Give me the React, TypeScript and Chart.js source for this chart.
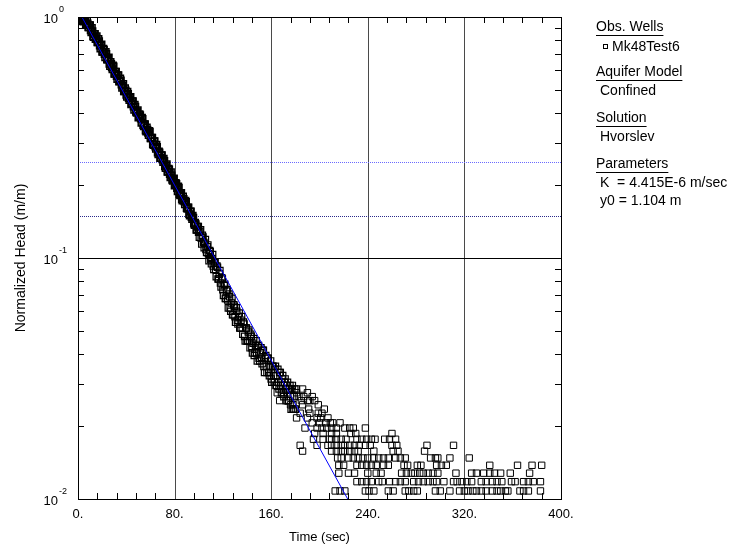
import React, { useEffect, useRef } from 'react';
import { Chart, registerables } from 'chart.js';

Chart.register(...registerables);

// ---------- data ----------
const earlyTime = [0, 1, 2, 3, 4, 5, 6, 7, 8, 9, 10, 11, 12, 13, 14, 15, 16, 17, 18, 19, 20, 21, 22, 23, 24, 25, 26, 27, 28, 29, 30, 31, 32, 33, 34, 35, 36, 37, 38, 39, 40, 41, 42, 43, 44, 45, 46, 47, 48, 49, 50, 51, 52, 53, 54, 55, 56, 57, 58, 59, 60, 61, 62, 63, 64, 65, 66, 67, 68, 69, 70, 71, 72, 73, 74, 75, 76, 77, 78, 79, 80, 81, 82, 83, 84, 85, 86, 87, 88, 89, 90, 91, 92, 93, 94, 95, 96, 97, 98, 99, 100];
const earlyHead = [1.000, 0.988, 0.997, 0.970, 0.993, 0.963, 0.981, 0.929, 0.941, 0.907,
  0.925, 0.864, 0.874, 0.825, 0.851, 0.817, 0.785, 0.810, 0.762, 0.763,
  0.717, 0.738, 0.702, 0.716, 0.666, 0.673, 0.639, 0.651, 0.619, 0.630,
  0.581, 0.593, 0.569, 0.574, 0.540, 0.556, 0.524, 0.518, 0.492, 0.506,
  0.476, 0.490, 0.461, 0.461, 0.434, 0.447, 0.425, 0.433, 0.404, 0.407,
  0.383, 0.395, 0.379, 0.382, 0.356, 0.359, 0.338, 0.348, 0.331, 0.337,
  0.314, 0.316, 0.297, 0.305, 0.290, 0.295, 0.274, 0.277, 0.260, 0.267,
  0.256, 0.258, 0.240, 0.242, 0.228, 0.235, 0.223, 0.227, 0.211, 0.212,
  0.200, 0.205, 0.195, 0.198, 0.184, 0.186, 0.175, 0.180, 0.172, 0.173,
  0.161, 0.162, 0.152, 0.156, 0.148, 0.150, 0.139, 0.140, 0.131, 0.135,
  0.128];

const earlyHalfTime = [0.5, 1.5, 2.5, 3.5, 4.5, 5.5, 6.5, 7.5, 8.5, 9.5, 10.5, 11.5, 12.5, 13.5, 14.5, 15.5, 16.5, 17.5, 18.5, 19.5, 20.5, 21.5, 22.5, 23.5, 24.5, 25.5, 26.5, 27.5, 28.5, 29.5, 30.5, 31.5, 32.5, 33.5, 34.5, 35.5, 36.5, 37.5, 38.5, 39.5, 40.5, 41.5, 42.5, 43.5, 44.5, 45.5, 46.5, 47.5, 48.5, 49.5, 50.5, 51.5, 52.5, 53.5, 54.5, 55.5, 56.5, 57.5, 58.5, 59.5, 60.5, 61.5, 62.5, 63.5, 64.5, 65.5, 66.5, 67.5, 68.5, 69.5, 70.5, 71.5, 72.5, 73.5, 74.5, 75.5, 76.5, 77.5, 78.5, 79.5, 80.5, 81.5, 82.5, 83.5, 84.5, 85.5, 86.5, 87.5, 88.5, 89.5, 90.5, 91.5, 92.5, 93.5, 94.5, 95.5, 96.5, 97.5, 98.5, 99.5];
const earlyHalfHead = [0.979, 0.992, 0.963, 0.990, 0.958, 0.987, 0.926, 0.968, 0.906, 0.925,
  0.881, 0.900, 0.832, 0.850, 0.809, 0.833, 0.786, 0.794, 0.740, 0.769,
  0.717, 0.731, 0.681, 0.702, 0.666, 0.679, 0.626, 0.638, 0.607, 0.624,
  0.581, 0.593, 0.552, 0.574, 0.541, 0.546, 0.508, 0.528, 0.492, 0.496,
  0.467, 0.480, 0.452, 0.466, 0.439, 0.447, 0.412, 0.424, 0.400, 0.411,
  0.387, 0.391, 0.364, 0.378, 0.352, 0.359, 0.335, 0.341, 0.324, 0.334,
  0.314, 0.316, 0.294, 0.305, 0.284, 0.289, 0.269, 0.274, 0.260, 0.267,
  0.250, 0.253, 0.236, 0.245, 0.228, 0.233, 0.216, 0.220, 0.209, 0.214,
  0.202, 0.203, 0.189, 0.196, 0.182, 0.186, 0.173, 0.176, 0.167, 0.171,
  0.160, 0.162, 0.150, 0.156, 0.145, 0.147, 0.137, 0.138, 0.131, 0.135];

const midTime = [101, 102, 103, 104, 105, 106, 107, 108, 109, 110, 111, 112, 113, 114, 115, 116, 117, 118, 119, 120, 121, 122, 123, 124, 125, 126, 127, 128, 129, 130, 131, 132, 133, 134, 135, 136, 137, 138, 139, 140, 141, 142, 143, 144, 145, 146, 147, 148, 149, 150, 151, 152, 153, 154, 155, 156, 157, 158, 159, 160, 161, 162, 163, 164, 165, 166, 167, 168, 169, 170, 171, 172, 173, 174, 175, 176, 177, 178, 179, 180];
const midHead = [0.1290, 0.1212, 0.1241, 0.1162, 0.1152, 0.1084, 0.1113, 0.1044, 0.1074, 0.0985,
  0.0995, 0.0926, 0.0965, 0.0896, 0.0926, 0.0818, 0.0857, 0.0788, 0.0827, 0.0739,
  0.0768, 0.0680, 0.0729, 0.0670, 0.0709, 0.0621, 0.0650, 0.0581, 0.0640, 0.0571,
  0.0621, 0.0552, 0.0571, 0.0512, 0.0552, 0.0512, 0.0542, 0.0473, 0.0512, 0.0453,
  0.0493, 0.0453, 0.0483, 0.0424, 0.0443, 0.0394, 0.0433, 0.0404, 0.0433, 0.0384,
  0.0404, 0.0384, 0.0414, 0.0355, 0.0384, 0.0355, 0.0384, 0.0335, 0.0355, 0.0315,
  0.0355, 0.0325, 0.0345, 0.0296, 0.0325, 0.0305, 0.0335, 0.0296, 0.0315, 0.0276,
  0.0305, 0.0286, 0.0296, 0.0256, 0.0286, 0.0266, 0.0286, 0.0246, 0.0266, 0.0236];

const midHalfTime = [100.5, 101.5, 102.5, 103.5, 104.5, 105.5, 106.5, 107.5, 108.5, 109.5, 110.5, 111.5, 112.5, 113.5, 114.5, 115.5, 116.5, 117.5, 118.5, 119.5, 120.5, 121.5, 122.5, 123.5, 124.5, 125.5, 126.5, 127.5, 128.5, 129.5, 130.5, 131.5, 132.5, 133.5, 134.5, 135.5, 136.5, 137.5, 138.5, 139.5, 140.5, 141.5, 142.5, 143.5, 144.5, 145.5, 146.5, 147.5, 148.5, 149.5, 150.5, 151.5, 152.5, 153.5, 154.5, 155.5, 156.5, 157.5, 158.5, 159.5, 160.5, 161.5, 162.5, 163.5, 164.5, 165.5, 166.5, 167.5, 168.5, 169.5, 170.5, 171.5, 172.5, 173.5, 174.5, 175.5, 176.5, 177.5, 178.5, 179.5];
const midHalfHead = [0.1221, 0.1310, 0.1143, 0.1221, 0.1103, 0.1192, 0.1054, 0.1133, 0.0975, 0.1064,
  0.0946, 0.1034, 0.0896, 0.0955, 0.0837, 0.0916, 0.0818, 0.0887, 0.0758, 0.0818,
  0.0699, 0.0778, 0.0680, 0.0739, 0.0621, 0.0690, 0.0601, 0.0680, 0.0581, 0.0630,
  0.0542, 0.0601, 0.0532, 0.0591, 0.0512, 0.0571, 0.0483, 0.0532, 0.0453, 0.0512,
  0.0453, 0.0502, 0.0424, 0.0473, 0.0404, 0.0463, 0.0404, 0.0453, 0.0374, 0.0433,
  0.0374, 0.0424, 0.0364, 0.0414, 0.0335, 0.0394, 0.0335, 0.0384, 0.0325, 0.0374,
  0.0305, 0.0355, 0.0305, 0.0355, 0.0296, 0.0345, 0.0286, 0.0335, 0.0276, 0.0325,
  0.0266, 0.0315, 0.0256, 0.0305, 0.0256, 0.0296, 0.0236, 0.0296, 0.0236, 0.0286];

// late-time readings fall on discrete head levels; times read for each level
const tailLevels = [0.0286, 0.0276, 0.0266, 0.0256, 0.0246, 0.0236, 0.0227, 0.0217, 0.0207, 0.0197, 0.0187, 0.0177, 0.0167, 0.0158, 0.0148, 0.0138, 0.0128, 0.0118, 0.0108];
const tailTimes = [
  [181, 186],
  [165, 173, 181, 190],
  [183, 187, 194],
  [167, 185, 190, 192, 196],
  [176, 186, 199],
  [178, 191, 204],
  [184, 192, 199, 202],
  [181, 190, 198, 201, 207],
  [194, 200, 205, 209, 211, 217],
  [188, 198, 202, 206, 210, 214, 221, 225, 228, 238],
  [196, 203, 210, 214, 226, 230, 260],
  [195, 203, 208, 210, 214, 218, 222, 231, 235, 239, 243, 246, 254, 258, 263],
  [184, 198, 207, 210, 214, 218, 221, 225, 229, 233, 238, 242, 260, 264, 289, 311],
  [186, 210, 214, 218, 221, 225, 229, 232, 245, 261, 265, 287],
  [215, 218, 224, 228, 232, 236, 240, 245, 249, 253, 257, 263, 267, 271, 292, 296, 298, 308, 324],
  [216, 220, 231, 235, 239, 243, 247, 253, 257, 270, 273, 281, 284, 297, 301, 305, 341, 364, 376, 384],
  [216, 224, 229, 240, 247, 251, 268, 272, 276, 279, 283, 286, 290, 294, 298, 313, 326, 330, 336, 341, 345, 350, 358, 374],
  [231, 235, 239, 243, 249, 252, 258, 263, 267, 271, 278, 282, 286, 290, 294, 297, 303, 311, 314, 318, 322, 326, 334, 338, 343, 347, 351, 359, 362, 369, 373, 377, 383],
  [213, 217, 221, 238, 241, 245, 257, 261, 271, 274, 278, 281, 296, 300, 308, 316, 320, 323, 327, 330, 334, 338, 343, 347, 350, 354, 356, 366, 369, 373, 383],
];

// Hvorslev solution line
const fitTime = [0, 230];
const fitHead = [1.07, 0.0087];

// normalized head reference range
const refHeads = [0.25, 0.15];

// axes
const X_MIN = 0;
const X_MAX = 400;
const Y_MIN = 0.01;
const Y_MAX = 1;
const xTickValues = [0, 80, 160, 240, 320, 400];
const xTickLabels = ['0.', '80.', '160.', '240.', '320.', '400.'];
const yDecades = [0.01, 0.1, 1];
const yDecadeExp = ['-2', '-1', '0'];

const legendText = {
  obsHeader: 'Obs. Wells',
  obsItem: 'Mk48Test6',
  aqHeader: 'Aquifer Model',
  aqItem: 'Confined',
  solHeader: 'Solution',
  solItem: 'Hvorslev',
  parHeader: 'Parameters',
  par1: 'K  = 4.415E-6 m/sec',
  par2: 'y0 = 1.104 m',
};

const FONT = '"Liberation Sans", Arial, Helvetica, sans-serif';

const decorPlugin = {
  id: 'aqtDecor',
  beforeDatasetsDraw(chart: any) {
    const { ctx, chartArea: a } = chart;
    const xs = chart.scales.x;
    const ys = chart.scales.y;
    ctx.save();
    ctx.lineWidth = 1;
    ctx.strokeStyle = '#4a4a4a';
    xTickValues.forEach((v) => {
      if (v <= X_MIN || v >= X_MAX) return;
      const px = Math.round(xs.getPixelForValue(v)) + 0.5;
      ctx.beginPath();
      ctx.moveTo(px, a.top);
      ctx.lineTo(px, a.bottom);
      ctx.stroke();
    });
    ctx.strokeStyle = '#000';
    yDecades.forEach((v) => {
      if (v <= Y_MIN || v >= Y_MAX) return;
      const py = Math.round(ys.getPixelForValue(v)) + 0.5;
      ctx.beginPath();
      ctx.moveTo(a.left, py);
      ctx.lineTo(a.right, py);
      ctx.stroke();
    });
    const refColors = ['#6b6bff', '#2a2a8a'];
    refHeads.forEach((v, i) => {
      const py = Math.round(ys.getPixelForValue(v)) + 0.5;
      ctx.setLineDash([1, 1]);
      ctx.strokeStyle = refColors[i];
      ctx.beginPath();
      ctx.moveTo(a.left, py);
      ctx.lineTo(a.right, py);
      ctx.stroke();
    });
    ctx.restore();
  },
  afterDraw(chart: any) {
    const { ctx, chartArea: a } = chart;
    const xs = chart.scales.x;
    const ys = chart.scales.y;
    ctx.save();
    ctx.lineWidth = 1;
    ctx.strokeStyle = '#000';
    ctx.strokeRect(a.left + 0.5, a.top + 0.5, a.right - a.left, a.bottom - a.top);
    const TL = 6;
    for (let i = 0; i < xTickValues.length - 1; i++) {
      const v0 = xTickValues[i];
      const v1 = xTickValues[i + 1];
      for (let j = 1; j < 5; j++) {
        const v = v0 + ((v1 - v0) * j) / 5;
        const px = Math.round(xs.getPixelForValue(v)) + 0.5;
        ctx.beginPath();
        ctx.moveTo(px, a.bottom);
        ctx.lineTo(px, a.bottom - TL);
        ctx.moveTo(px, a.top);
        ctx.lineTo(px, a.top + TL);
        ctx.stroke();
      }
    }
    for (let d = 0; d < yDecades.length - 1; d++) {
      for (let m = 2; m <= 9; m++) {
        const v = yDecades[d] * m;
        const py = Math.round(ys.getPixelForValue(v)) + 0.5;
        ctx.beginPath();
        ctx.moveTo(a.left, py);
        ctx.lineTo(a.left + TL, py);
        ctx.moveTo(a.right, py);
        ctx.lineTo(a.right - TL, py);
        ctx.stroke();
      }
    }
    ctx.fillStyle = '#000';
    ctx.font = `13px ${FONT}`;
    ctx.textAlign = 'center';
    ctx.textBaseline = 'middle';
    xTickValues.forEach((v, i) => {
      ctx.fillText(xTickLabels[i], xs.getPixelForValue(v), a.bottom + 15);
    });
    yDecades.forEach((v, i) => {
      const py = ys.getPixelForValue(v);
      ctx.font = `13px ${FONT}`;
      ctx.textAlign = 'right';
      ctx.fillText('10', a.left - 20, py + 2);
      ctx.font = `9px ${FONT}`;
      ctx.textAlign = 'left';
      ctx.fillText(yDecadeExp[i], a.left - 19, py - 7);
    });
    ctx.font = `13px ${FONT}`;
    ctx.textAlign = 'center';
    ctx.fillText('Time (sec)', (a.left + a.right) / 2, a.bottom + 38);
    ctx.save();
    ctx.translate(21, (a.top + a.bottom) / 2);
    ctx.rotate(-Math.PI / 2);
    ctx.font = `14px ${FONT}`;
    ctx.fillText('Normalized Head (m/m)', 0, 0);
    ctx.restore();

    const lx = a.right + 35;
    const ix = lx + 4;
    ctx.textAlign = 'left';
    ctx.textBaseline = 'middle';
    ctx.font = `14px ${FONT}`;
    const header = (txt: string, y: number) => {
      ctx.fillText(txt, lx, y);
      const w = ctx.measureText(txt).width;
      ctx.beginPath();
      ctx.moveTo(lx, Math.round(y + 8) + 0.5);
      ctx.lineTo(lx + w, Math.round(y + 8) + 0.5);
      ctx.stroke();
    };
    header(legendText.obsHeader, 27);
    ctx.strokeRect(ix + 3.5, 44.5, 4, 4);
    ctx.fillText(legendText.obsItem, ix + 12, 47);
    header(legendText.aqHeader, 72);
    ctx.fillText(legendText.aqItem, ix, 91);
    header(legendText.solHeader, 118);
    ctx.fillText(legendText.solItem, ix, 137);
    header(legendText.parHeader, 164);
    ctx.fillText(legendText.par1, ix, 183);
    ctx.fillText(legendText.par2, ix, 201);
    ctx.restore();
  },
};

const squareStyle = {
  showLine: false,
  pointStyle: 'rect',
  pointRadius: 4.5,
  pointBorderColor: '#000',
  pointBackgroundColor: 'rgba(0,0,0,0)',
  order: 2,
};

export default function App() {
  const ref = useRef<HTMLCanvasElement>(null);
  useEffect(() => {
    const early: { x: number; y: number }[] = [];
    earlyTime.forEach((t, i) => early.push({ x: t, y: earlyHead[i] }));
    earlyHalfTime.forEach((t, i) => early.push({ x: t, y: earlyHalfHead[i] }));
    const mid: { x: number; y: number }[] = [];
    midTime.forEach((t, i) => mid.push({ x: t, y: midHead[i] }));
    midHalfTime.forEach((t, i) => mid.push({ x: t, y: midHalfHead[i] }));
    const tail: { x: number; y: number }[] = [];
    tailLevels.forEach((lvl, r) => tailTimes[r].forEach((t) => tail.push({ x: t, y: lvl })));
    const fit = fitTime.map((t, i) => ({ x: t, y: fitHead[i] }));

    const chart = new Chart(ref.current as HTMLCanvasElement, {
      type: 'scatter',
      data: {
        datasets: [
          { label: 'Mk48Test6', data: early, ...squareStyle, pointBorderWidth: 1.5 } as any,
          { label: 'Mk48Test6 b', data: mid, ...squareStyle, pointBorderWidth: 1.2 } as any,
          { label: 'Mk48Test6 c', data: tail, ...squareStyle, pointBorderWidth: 1 } as any,
          {
            label: 'Hvorslev',
            data: fit,
            showLine: true,
            borderColor: '#0000ff',
            borderWidth: 1,
            pointRadius: 0,
            fill: false,
            order: 1,
          } as any,
        ],
      },
      options: {
        responsive: false,
        animation: false,
        devicePixelRatio: 1,
        layout: { padding: { left: 78, right: 175, top: 17, bottom: 49 } },
        plugins: { legend: { display: false }, tooltip: { enabled: false }, title: { display: false } },
        events: [],
        scales: {
          x: { type: 'linear', min: X_MIN, max: X_MAX, display: false },
          y: { type: 'logarithmic', min: Y_MIN, max: Y_MAX, display: false },
        },
      } as any,
      plugins: [decorPlugin],
    });
    return () => chart.destroy();
  }, []);
  return (
    <div style={{ position: 'absolute', left: 0, top: 0, width: 736, height: 548, background: '#fff' }}>
      <canvas ref={ref} width={736} height={548} style={{ display: 'block', width: 736, height: 548 }} />
    </div>
  );
}
